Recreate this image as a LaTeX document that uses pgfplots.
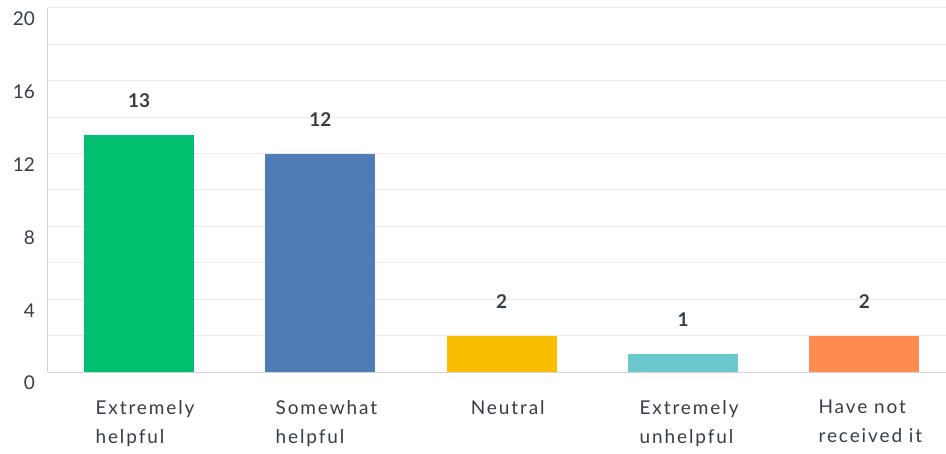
\documentclass[border=0pt]{standalone}
\usepackage{pgfplots}
\pgfplotsset{compat=1.18}
\usepackage{fontspec}
\setmainfont{Lato}
\newfontfamily\catfont[LetterSpace=10]{Lato}
\definecolor{txt}{HTML}{333E48}
\definecolor{gridc}{HTML}{EBEBEB}
\definecolor{axc}{HTML}{D2D2D2}
\definecolor{cA}{HTML}{00BF6F}
\definecolor{cB}{HTML}{507CB6}
\definecolor{cC}{HTML}{F9BE00}
\definecolor{cD}{HTML}{6BC8CD}
\definecolor{cE}{HTML}{FF8B4F}
\begin{document}
\begin{tikzpicture}
\useasboundingbox (0,0) rectangle (946pt,453pt);
\begin{axis}[
  at={(48pt,81pt)}, anchor=south west,
  scale only axis, width=898pt, height=364pt,
  xmin=-0.502, xmax=4.45, ymin=0, ymax=20,
  axis x line*=bottom, axis y line*=left,
  axis line style={axc, line width=1pt, -},
  ytick={0,4,...,20}, minor ytick={2,6,...,18},
  ymajorgrids, yminorgrids,
  major grid style={gridc, line width=1pt},
  minor grid style={gridc, line width=1pt},
  major tick length=0pt, minor tick length=0pt,
  yticklabel style={anchor=east, inner sep=0pt, xshift=-13pt, yshift=-11pt, font=\fontsize{19}{23}\selectfont, text=txt},
  /pgf/number format/assume math mode=true,
  xtick={0,1,2,3,4},
  xticklabels={Extremely\\helpful, Somewhat\\helpful, Neutral, Extremely\\unhelpful, Have not\\received it},
  xticklabel style={anchor=north, align=left, inner sep=0pt, xshift=6pt, yshift=-28pt, font=\catfont\fontsize{19}{29}\selectfont, text=txt},
  ybar=0pt, bar width=110pt, bar shift=0pt,
  nodes near coords,
  every node near coord/.append style={font=\bfseries\fontsize{19}{23}\selectfont, text=txt, anchor=south, yshift=24pt},
  clip=false,
]
\addplot[fill=cA, draw=none] coordinates {(0,13)};
\addplot[fill=cB, draw=none] coordinates {(1,12)};
\addplot[fill=cC, draw=none] coordinates {(2,2)};
\addplot[fill=cD, draw=none] coordinates {(3,1)};
\addplot[fill=cE, draw=none] coordinates {(4,2)};
\end{axis}
\end{tikzpicture}
\end{document}
